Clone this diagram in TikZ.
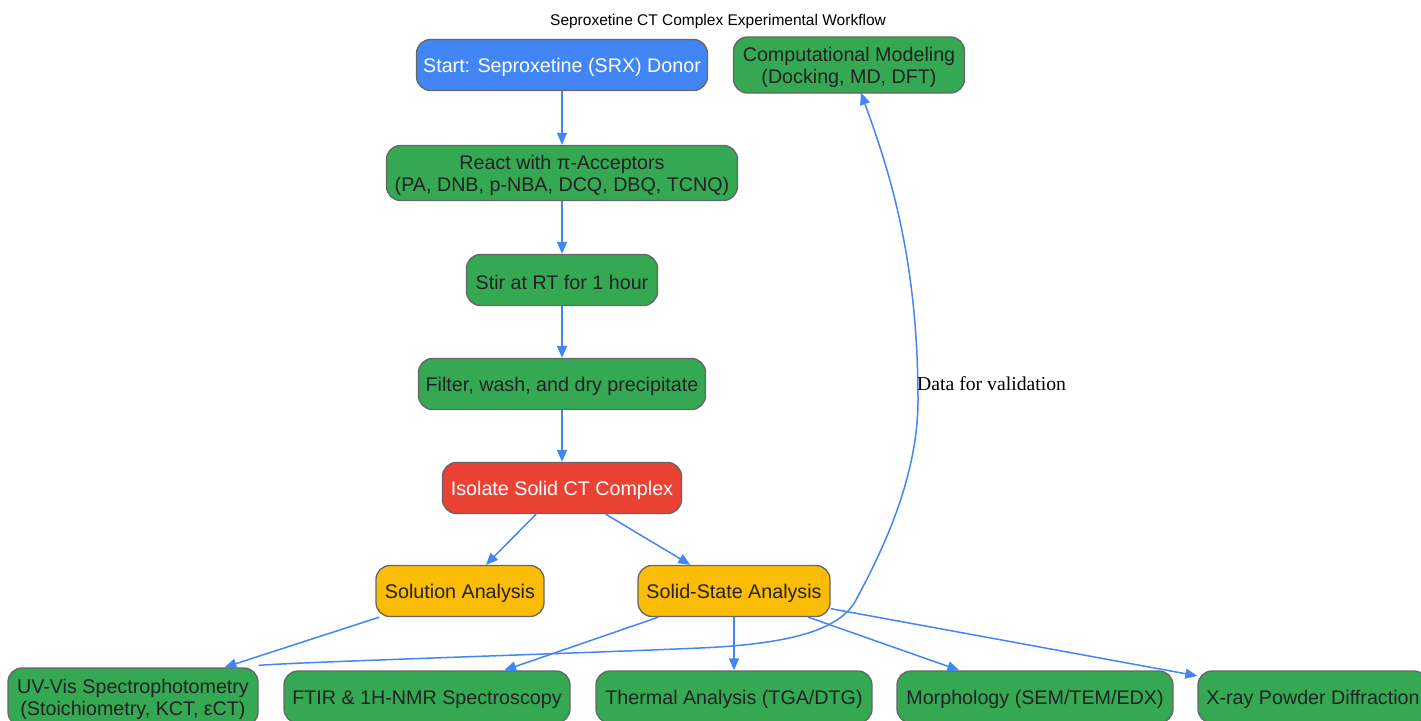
\documentclass[tikz,border=0pt]{standalone}
\usepackage{fontspec}
\setmainfont{Liberation Sans}
\newfontfamily\seriflab{Liberation Serif}
\usetikzlibrary{arrows.meta}
\definecolor{gblue}{HTML}{4285F4}
\definecolor{ggreen}{HTML}{34A853}
\definecolor{gred}{HTML}{EA4335}
\definecolor{gyellow}{HTML}{FBBC05}
\definecolor{bordergray}{HTML}{666666}
\definecolor{textdark}{HTML}{222222}
\begin{document}
\begin{tikzpicture}[x=1pt,y=-1pt,
  box/.style={draw=bordergray, line width=1.3pt, rounded corners=14pt, inner sep=0pt},
  boxtext/.style={align=center, inner sep=0pt, font=\fontsize{19.7}{22.5}\selectfont, text=textdark, yshift=-2.5pt},
  whitetext/.style={boxtext, text=white},
  bluebox/.style={box, fill=gblue},
  greenbox/.style={box, fill=ggreen},
  redbox/.style={box, fill=gred},
  yellowbox/.style={box, fill=gyellow},
  edge/.style={draw=gblue, line width=1.5pt, -{Triangle[length=12pt,width=10pt]}}]
\useasboundingbox (0,0) rectangle (1421,720);

\node[font=\fontsize{15.5}{18}\selectfont] (title) at (718,21) {Seproxetine CT Complex Experimental Workflow};

\node[bluebox, minimum width=291pt, minimum height=51pt,
  label={[whitetext]center:{Start: Seproxetine (SRX) Donor}}] (start) at (562,65) {};
\node[greenbox, minimum width=231pt, minimum height=56pt,
  label={[boxtext]center:{Computational Modeling\\(Docking, MD, DFT)}}] (comp) at (849,65) {};
\node[greenbox, minimum width=351pt, minimum height=55pt,
  label={[boxtext]center:{React with π-Acceptors\\(PA, DNB, p-NBA, DCQ, DBQ, TCNQ)}}] (react) at (562,173) {};
\node[greenbox, minimum width=191pt, minimum height=51pt,
  label={[boxtext]center:{Stir at RT for 1 hour}}] (stir) at (562,280) {};
\node[greenbox, minimum width=287pt, minimum height=51pt,
  label={[boxtext]center:{Filter, wash, and dry precipitate}}] (filter) at (562,384) {};
\node[redbox, minimum width=239pt, minimum height=51pt,
  label={[whitetext]center:{Isolate Solid CT Complex}}] (iso) at (562,488) {};
\node[yellowbox, minimum width=168pt, minimum height=51pt,
  label={[boxtext]center:{Solution Analysis}}] (sol) at (460,591) {};
\node[yellowbox, minimum width=192pt, minimum height=51pt,
  label={[boxtext]center:{Solid-State Analysis}}] (solid) at (734,591) {};

\node[greenbox, minimum width=250pt, minimum height=58pt,
  label={[boxtext]center:{UV-Vis Spectrophotometry\\(Stoichiometry, KCT, εCT)}}] (uv) at (133,697) {};
\node[greenbox, minimum width=286pt, minimum height=52pt,
  label={[boxtext]center:{FTIR \& 1H-NMR Spectroscopy}}] (ftir) at (427,697) {};
\node[greenbox, minimum width=276pt, minimum height=52pt,
  label={[boxtext]center:{Thermal Analysis (TGA/DTG)}}] (therm) at (734,697) {};
\node[greenbox, minimum width=276pt, minimum height=52pt,
  label={[boxtext]center:{Morphology (SEM/TEM/EDX)}}] (morph) at (1035,697) {};
\node[greenbox, minimum width=230pt, minimum height=52pt,
  label={[boxtext]center:{X-ray Powder Diffraction}}] (xrd) at (1313,697) {};

\draw[edge] (start) -- (react);
\draw[edge] (react) -- (stir);
\draw[edge] (stir) -- (filter);
\draw[edge] (filter) -- (iso);
\draw[edge] (iso) -- (sol);
\draw[edge] (iso) -- (solid);
\draw[edge] (sol) -- (uv);
\draw[edge] (solid) -- (ftir);
\draw[edge] (solid) -- (therm);
\draw[edge] (solid) -- (morph);
\draw[edge] (solid) -- (xrd);

\draw[edge] ([yshift=2pt]uv.north east) .. controls (300,662) and (560,654) .. (700,648)
  .. controls (790,644) and (840,630) .. (856,600)
  .. controls (880,555) and (918,480) .. (918,400)
  .. controls (918,250) and (885,160) .. ([xshift=12pt,yshift=1pt]comp.south);
\node[font=\seriflab\fontsize{19.7}{22}\selectfont, anchor=west, inner sep=0pt] (lbl) at (917,384) {Data for validation};
\end{tikzpicture}
\end{document}
